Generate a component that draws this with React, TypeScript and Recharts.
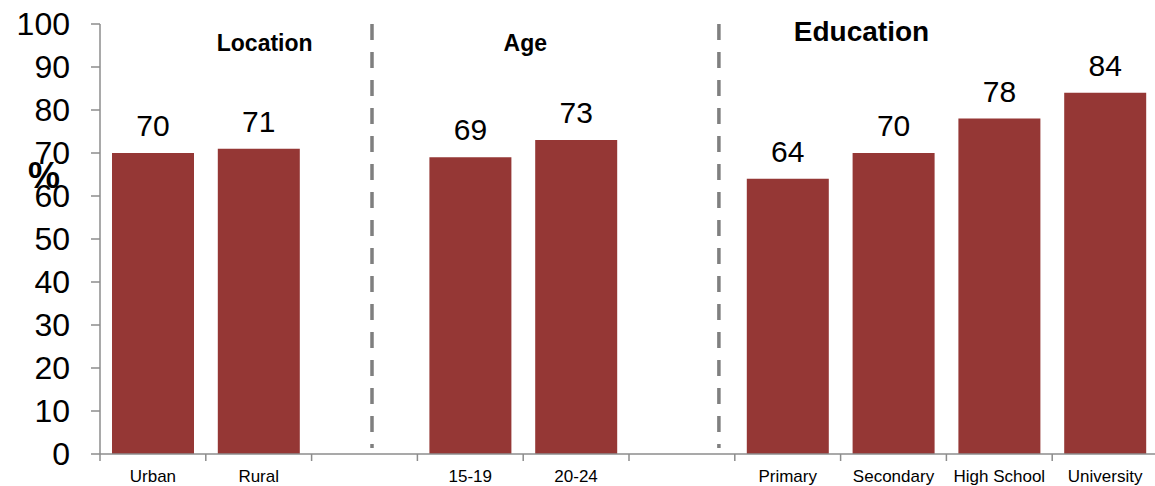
import React from 'react';
import { BarChart, Bar, XAxis, YAxis, LabelList, ReferenceLine, ReferenceDot } from 'recharts';

const categories = ['Urban', 'Rural', ' ', '15-19', '20-24', '  ', 'Primary', 'Secondary', 'High School', 'University'];
const values: (number | null)[] = [70, 71, null, 69, 73, null, 64, 70, 78, 84];
const yTicks = [0, 10, 20, 30, 40, 50, 60, 70, 80, 90, 100];
const dividerCats = [' ', '  '];
const dividerShift = [7.5, 37];
const groupLabels = ['Location', 'Age', 'Education'];
const groupCats = ['Rural', '15-19', 'Secondary'];
const groupShift = [6, 55, -32];
const groupY = [95.6, 95.6, 98.4];
const groupFont = [23, 23, 28];

const data = categories.map((c, i) => ({ name: c, value: values[i] }));

const FONT = '"Liberation Sans", Arial, sans-serif';
const AXIS = '#8c8c8c';

const CatTick = (props: any) => {
  const { x, y, payload, index, visibleTicksCount } = props;
  const half = payload && payload.offset ? payload.offset : 52.9;
  const isLast = index === visibleTicksCount - 1;
  return (
    <g>
      <line x1={x - half} x2={x - half} y1={y} y2={y + 7} stroke={AXIS} strokeWidth={1.5} />
      {isLast && <line x1={x + half} x2={x + half} y1={y} y2={y + 7} stroke={AXIS} strokeWidth={1.5} />}
      <text x={x} y={y + 16} dy="0.71em" textAnchor="middle" fill="#000" fontSize={17} fontFamily={FONT}>
        {payload.value}
      </text>
    </g>
  );
};

const Divider = (shift: number) => (p: any) => {
  const top = Math.min(p.y1, p.y2);
  const bottom = Math.max(p.y1, p.y2);
  return (
    <line
      x1={p.x1 + shift}
      x2={p.x2 + shift}
      y1={top}
      y2={bottom - 6}
      stroke="#7f7f7f"
      strokeWidth={3.5}
      strokeDasharray="16 12"
    />
  );
};

export default function App() {
  return (
    <div style={{ position: 'absolute', left: 0, top: 0, width: 1155, height: 486, overflow: 'hidden', background: '#fff' }}>
      <BarChart
        width={1158}
        height={486}
        data={data}
        margin={{ top: 24, right: 0, bottom: 0, left: 0 }}
        barCategoryGap={12}
        style={{ fontFamily: FONT }}
      >
        <XAxis
          dataKey="name"
          axisLine={{ stroke: AXIS, strokeWidth: 1.5 }}
          tickLine={false}
          tickSize={0}
          tickMargin={0}
          height={32}
          interval={0}
          tick={<CatTick />}
        />
        <YAxis
          domain={[0, 100]}
          ticks={yTicks}
          width={100}
          tickSize={9}
          tickMargin={21}
          interval={0}
          axisLine={{ stroke: AXIS, strokeWidth: 1.5 }}
          tickLine={{ stroke: AXIS, strokeWidth: 1.5 }}
          tick={{ fill: '#000', fontSize: 32, fontFamily: FONT }}
          label={{ value: '%', position: 'insideLeft', dx: 23, dy: -64, fontSize: 36, fontWeight: 'bold', fill: '#000', fontFamily: FONT }}
        />
        <Bar dataKey="value" fill="#953735" isAnimationActive={false}>
          <LabelList dataKey="value" position="top" offset={17} fill="#000" fontSize={30} fontFamily={FONT} />
        </Bar>
        {dividerCats.map((d, i) => (
          <ReferenceLine key={'d' + i} x={d} stroke="#7f7f7f" shape={Divider(dividerShift[i])} />
        ))}
        {groupLabels.map((g, i) => (
          <ReferenceDot
            key={'g' + i}
            x={groupCats[i]}
            y={groupY[i]}
            r={0}
            stroke="none"
            fill="none"
            label={{ value: g, position: 'center', dx: groupShift[i], fontSize: groupFont[i], fontWeight: 'bold', fill: '#000', fontFamily: FONT }}
          />
        ))}
      </BarChart>
    </div>
  );
}
